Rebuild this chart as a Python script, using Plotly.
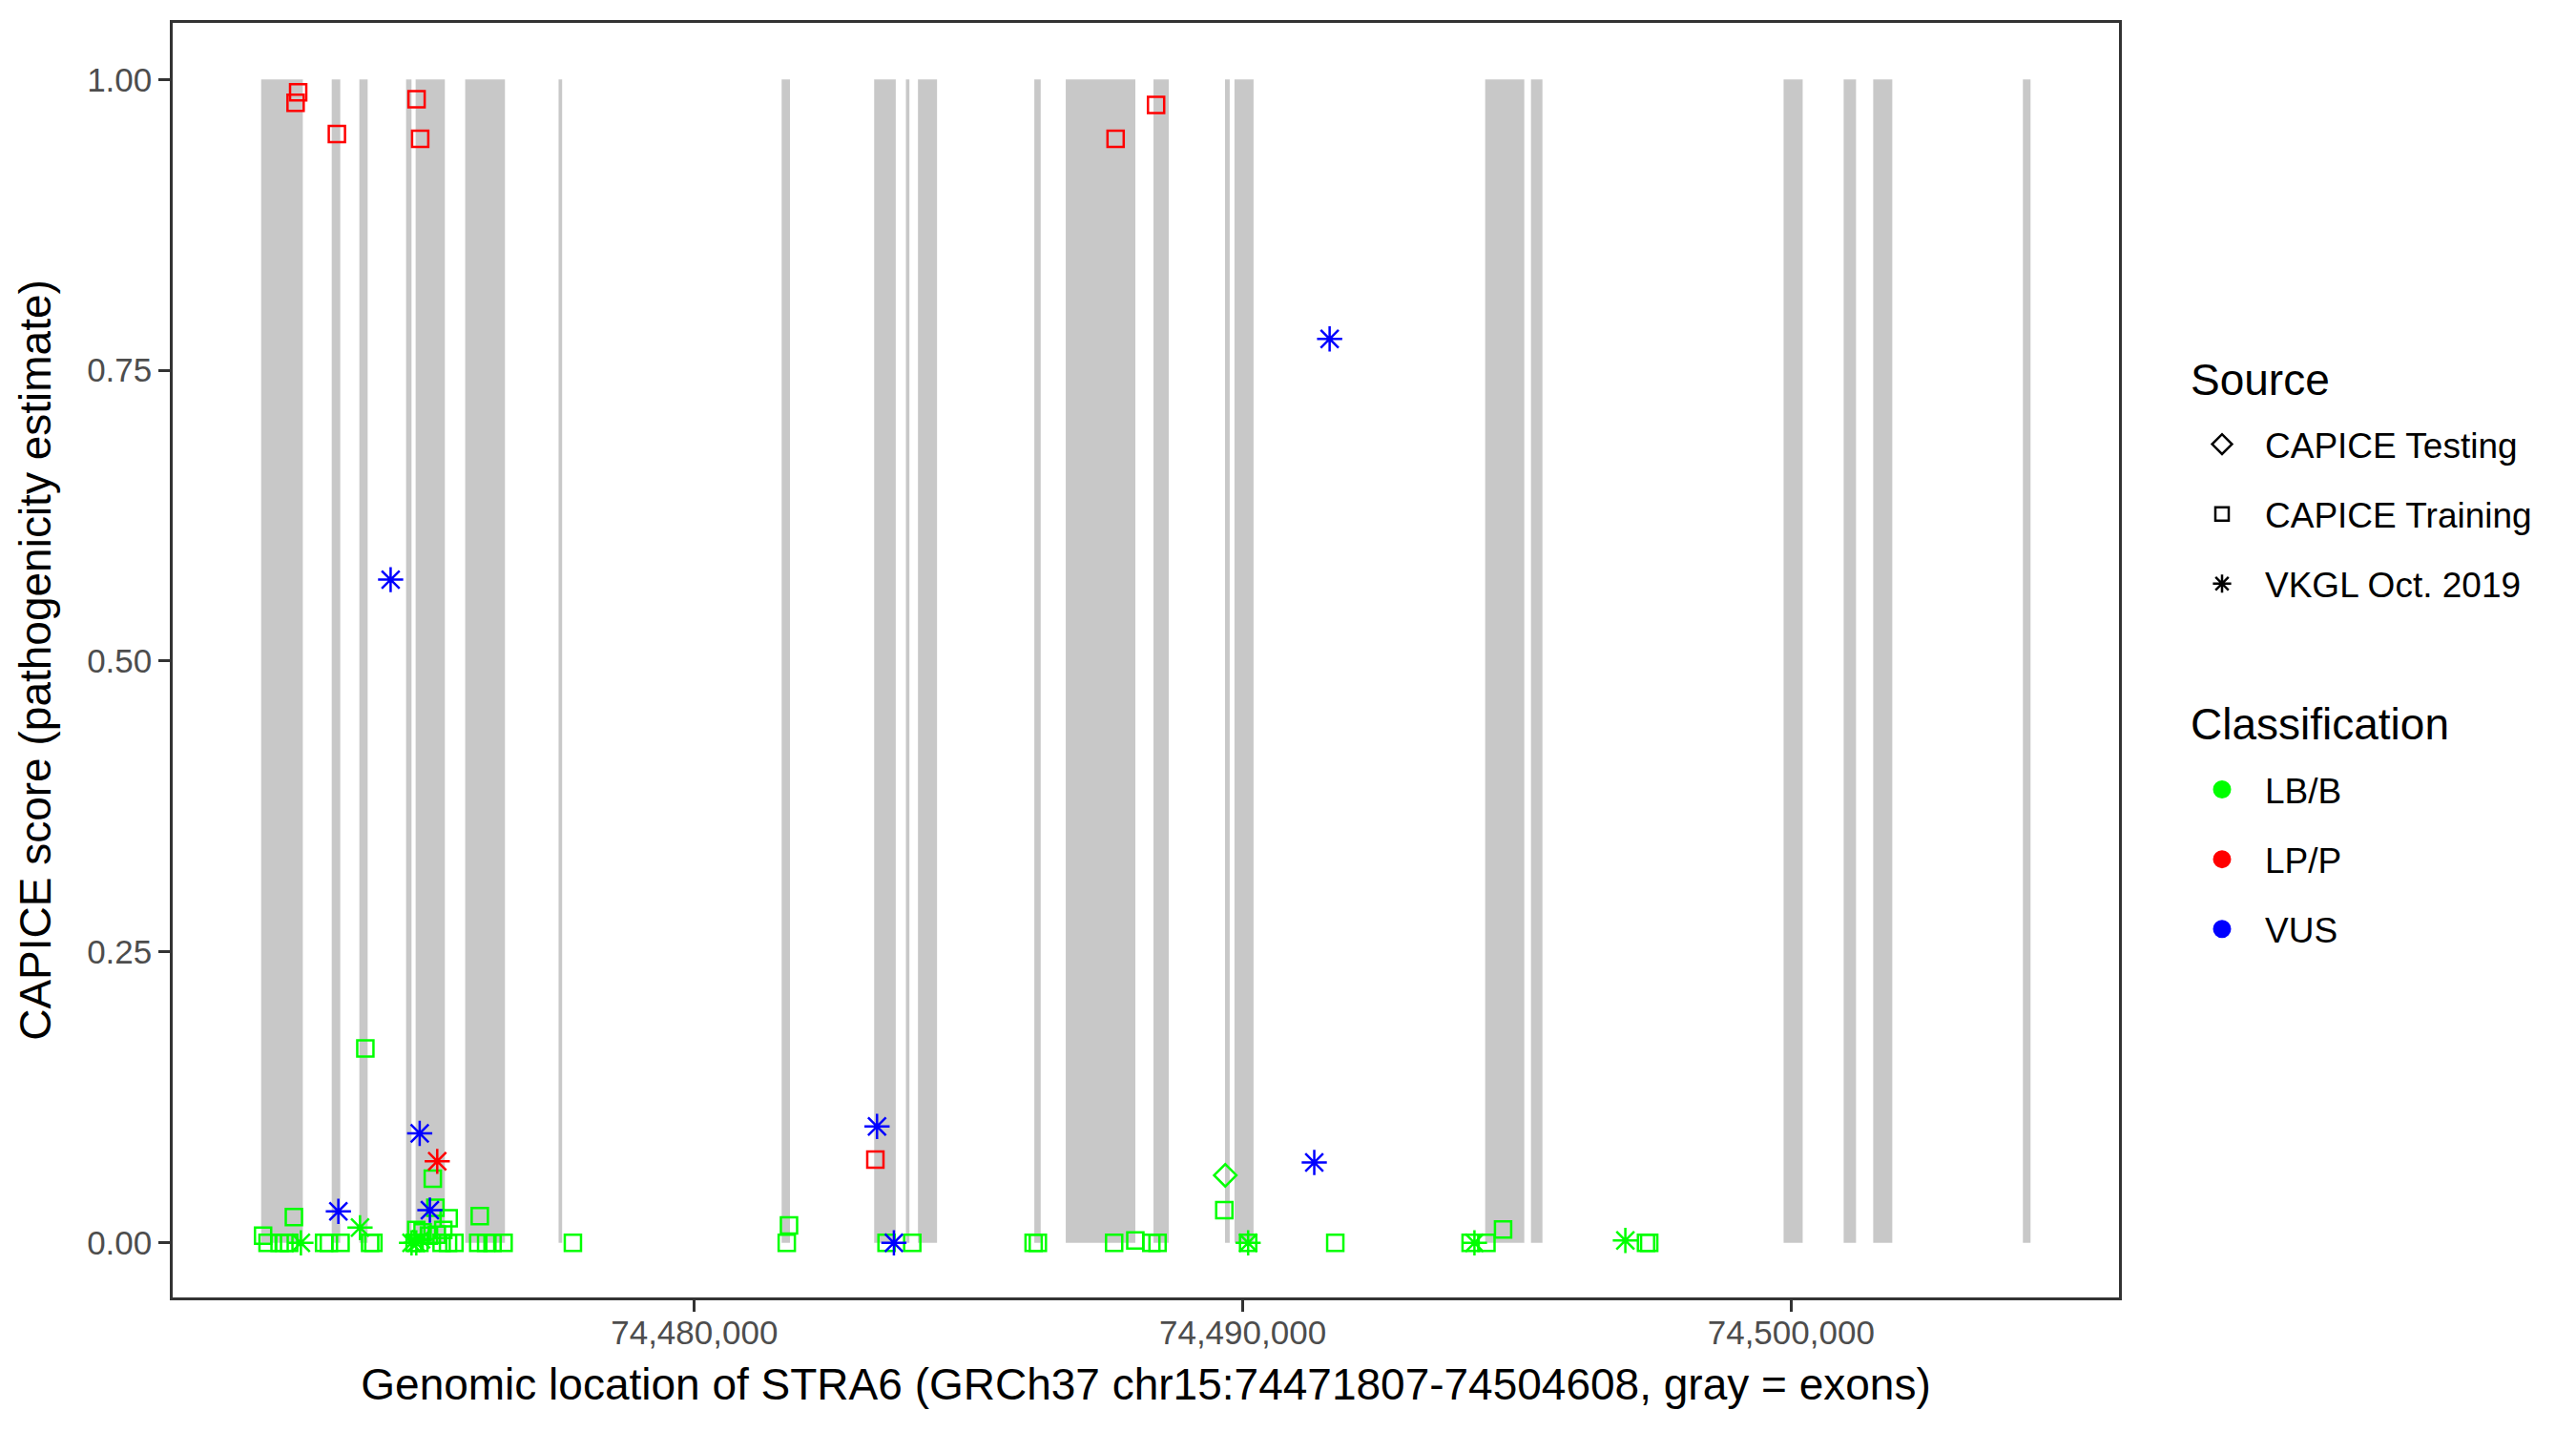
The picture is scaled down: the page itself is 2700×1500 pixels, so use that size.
import plotly.graph_objects as go

# ---------------- data ----------------
exon_start = [74472100, 74473387, 74473891, 74474743, 74474917, 74475821, 74477524,
              74481592, 74483279, 74483858, 74484078, 74486200, 74486773, 74488373,
              74489677, 74489850, 74494422, 74495257, 74499864, 74500959, 74501498,
              74504228]
exon_end = [74472860, 74473543, 74474042, 74474842, 74475450, 74476546, 74477589,
            74481744, 74483673, 74483922, 74484426, 74486316, 74488042, 74488651,
            74489763, 74490198, 74495135, 74495466, 74500212, 74501185, 74501846,
            74504367]

# CAPICE Training, LB/B
train_lbb_pos = [74472135, 74472217, 74472436, 74472523, 74472610, 74472697, 74473248,
                 74473335, 74473548, 74474000, 74474087, 74474147, 74474929, 74474899,
                 74474986, 74475044, 74475160, 74475230, 74475277, 74475304, 74475391,
                 74475421, 74475508, 74475520, 74475624, 74476059, 74476087, 74476203,
                 74476320, 74476521, 74477785, 74481685, 74481726, 74483505, 74483974,
                 74486187, 74486264, 74487655, 74488042, 74488333, 74488447, 74489664,
                 74490099, 74491688, 74494156, 74494445, 74494748, 74497355, 74497413]
train_lbb_score = [0.006, 0.0, 0.0, 0.0, 0.0, 0.022, 0.0,
                   0.0, 0.0, 0.167, 0.0, 0.0, 0.011, 0.0,
                   0.0, 0.009, 0.006, 0.055, 0.030, 0.007, 0.0,
                   0.011, 0.0, 0.021, 0.0, 0.0, 0.023, 0.0,
                   0.0, 0.0, 0.0, 0.0, 0.015, 0.0, 0.0,
                   0.0, 0.0, 0.0, 0.002, 0.0, 0.0, 0.028,
                   0.0, 0.0, 0.0, 0.0, 0.0115, 0.0, 0.0]

# CAPICE Training, LP/P
train_lpp_pos = [74472775, 74472728, 74473481, 74474934, 74475000, 74487682, 74488420,
                 74483301]
train_lpp_score = [0.989, 0.980, 0.953, 0.983, 0.949, 0.949, 0.978, 0.0716]

# CAPICE Testing, LB/B
test_lbb_pos = [74489682]
test_lbb_score = [0.058]

# VKGL Oct. 2019, LB/B
vkgl_lbb_pos = [74472825, 74473903, 74474842, 74474929, 74475016, 74490099, 74494226,
                74496978]
vkgl_lbb_score = [0.0, 0.013, 0.0, 0.0, 0.003, 0.0, 0.0, 0.002]

# VKGL Oct. 2019, LP/P
vkgl_lpp_pos = [74475311]
vkgl_lpp_score = [0.070]

# VKGL Oct. 2019, VUS
vkgl_vus_pos = [74473508, 74474461, 74474991, 74475177, 74483331, 74483639, 74491305,
                74491585]
vkgl_vus_score = [0.027, 0.570, 0.094, 0.028, 0.100, 0.0, 0.069, 0.777]

source_names = ["CAPICE Testing", "CAPICE Training", "VKGL Oct. 2019"]
class_names = ["LB/B", "LP/P", "VUS"]
x_tick_values = [74480000, 74490000, 74500000]
y_tick_values = [0, 0.25, 0.5, 0.75, 1.0]

# ---------------- styles ----------------
FONT = "Liberation Sans, Arial, Helvetica, sans-serif"
class_colors = {"LB/B": "#00FF00", "LP/P": "#FF0000", "VUS": "#0000FF"}
source_symbols = {"CAPICE Testing": "diamond-open", "CAPICE Training": "square-open",
                  "VKGL Oct. 2019": "asterisk-open"}
source_sizes = {"CAPICE Testing": 18, "CAPICE Training": 17, "VKGL Oct. 2019": 22}
legend_sizes = {"CAPICE Testing": 16, "CAPICE Training": 14, "VKGL Oct. 2019": 16}
EXON_COLOR = "#C8C8C8"

# page offset (browser body margin)
OFF = 8
L, R, T, B = 181 - OFF, 2700 - 2221 + OFF, 24 - OFF, 1500 - 1360 + OFF
PW = 2700 - L - R
PH = 1500 - T - B


def paper_x(page_x):
    return (page_x - OFF - L) / PW


def paper_y(page_y):
    return (PH + T - (page_y - OFF)) / PH


fig = go.Figure()

# exons (gray rectangles from 0 to 1)
for s, e in zip(exon_start, exon_end):
    fig.add_shape(type="rect", xref="x", yref="y", x0=s, x1=e, y0=0, y1=1,
                  fillcolor=EXON_COLOR, line_width=0, layer="below")

groups = [
    ("CAPICE Training", "LB/B", train_lbb_pos, train_lbb_score),
    ("CAPICE Training", "LP/P", train_lpp_pos, train_lpp_score),
    ("CAPICE Testing", "LB/B", test_lbb_pos, test_lbb_score),
    ("VKGL Oct. 2019", "LB/B", vkgl_lbb_pos, vkgl_lbb_score),
    ("VKGL Oct. 2019", "LP/P", vkgl_lpp_pos, vkgl_lpp_score),
    ("VKGL Oct. 2019", "VUS", vkgl_vus_pos, vkgl_vus_score),
]
for src, cls, xs, ys in groups:
    fig.add_trace(go.Scatter(
        x=xs, y=ys, mode="markers", showlegend=False,
        marker=dict(symbol=source_symbols[src], size=source_sizes[src],
                    color=class_colors[cls],
                    line=dict(width=2.5, color=class_colors[cls])),
        hoverinfo="x+y"))

# legend entries: Source
for src in source_names:
    fig.add_trace(go.Scatter(
        x=[None], y=[None], mode="markers", name=src, legend="legend",
        legendgroup=src,
        marker=dict(symbol=source_symbols[src], size=legend_sizes[src], color="black",
                    line=dict(width=2.5, color="black"))))
# legend entries: Classification
for cls in class_names:
    fig.add_trace(go.Scatter(
        x=[None], y=[None], mode="markers", name=cls, legend="legend2",
        legendgroup=cls,
        marker=dict(symbol="circle", size=16, color=class_colors[cls],
                    line=dict(width=3, color=class_colors[cls]))))

all_x = exon_start + exon_end + train_lbb_pos + train_lpp_pos + test_lbb_pos + \
    vkgl_lbb_pos + vkgl_lpp_pos + vkgl_vus_pos
xmin, xmax = min(all_x), max(all_x)
span = xmax - xmin
xr = [xmin - 0.05 * span, xmax + 0.05 * span]

axis_common = dict(showgrid=False, zeroline=False, showline=True, mirror=True,
                   linecolor="#333333", linewidth=2.5, ticks="outside", ticklen=12,
                   tickwidth=2.5, tickcolor="#333333",
                   tickfont=dict(family=FONT, size=35, color="#4D4D4D"))

LEG_X = (2284 - OFF) / 2700
fig.update_layout(
    width=2700, height=1500,
    margin=dict(l=L, r=R, t=T, b=B, autoexpand=False),
    paper_bgcolor="white", plot_bgcolor="white",
    font=dict(family=FONT, color="black"),
    xaxis=dict(range=xr, tickvals=x_tick_values, tickformat=",d", ticklabelstandoff=-8,
               title=dict(text="Genomic location of STRA6 (GRCh37 chr15:74471807-74504608, gray = exons)",
                          font=dict(family=FONT, size=46, color="black"), standoff=21),
               **axis_common),
    yaxis=dict(range=[-0.047, 1.0486], tickvals=y_tick_values, tickformat=".2f",
               title=dict(text="CAPICE score (pathogenicity estimate)",
                          font=dict(family=FONT, size=46, color="black"), standoff=24),
               **axis_common),
    legend=dict(xref="container", yref="container", x=LEG_X, y=1 - (435 - OFF) / 1500,
                xanchor="left", yanchor="top",
                font=dict(family=FONT, size=37, color="black"),
                tracegroupgap=22, itemwidth=80, bgcolor="rgba(0,0,0,0)"),
    legend2=dict(xref="container", yref="container", x=LEG_X, y=1 - (797 - OFF) / 1500,
                 xanchor="left", yanchor="top",
                 font=dict(family=FONT, size=37, color="black"),
                 tracegroupgap=22, itemwidth=80, bgcolor="rgba(0,0,0,0)"),
    annotations=[
        dict(text="Source", xref="paper", yref="paper", x=paper_x(2294), y=paper_y(398),
             xanchor="left", yanchor="middle", showarrow=False,
             font=dict(family=FONT, size=46, color="black")),
        dict(text="Classification", xref="paper", yref="paper", x=paper_x(2294),
             y=paper_y(759), xanchor="left", yanchor="middle", showarrow=False,
             font=dict(family=FONT, size=46, color="black")),
    ],
)

fig.write_html("out.html")
